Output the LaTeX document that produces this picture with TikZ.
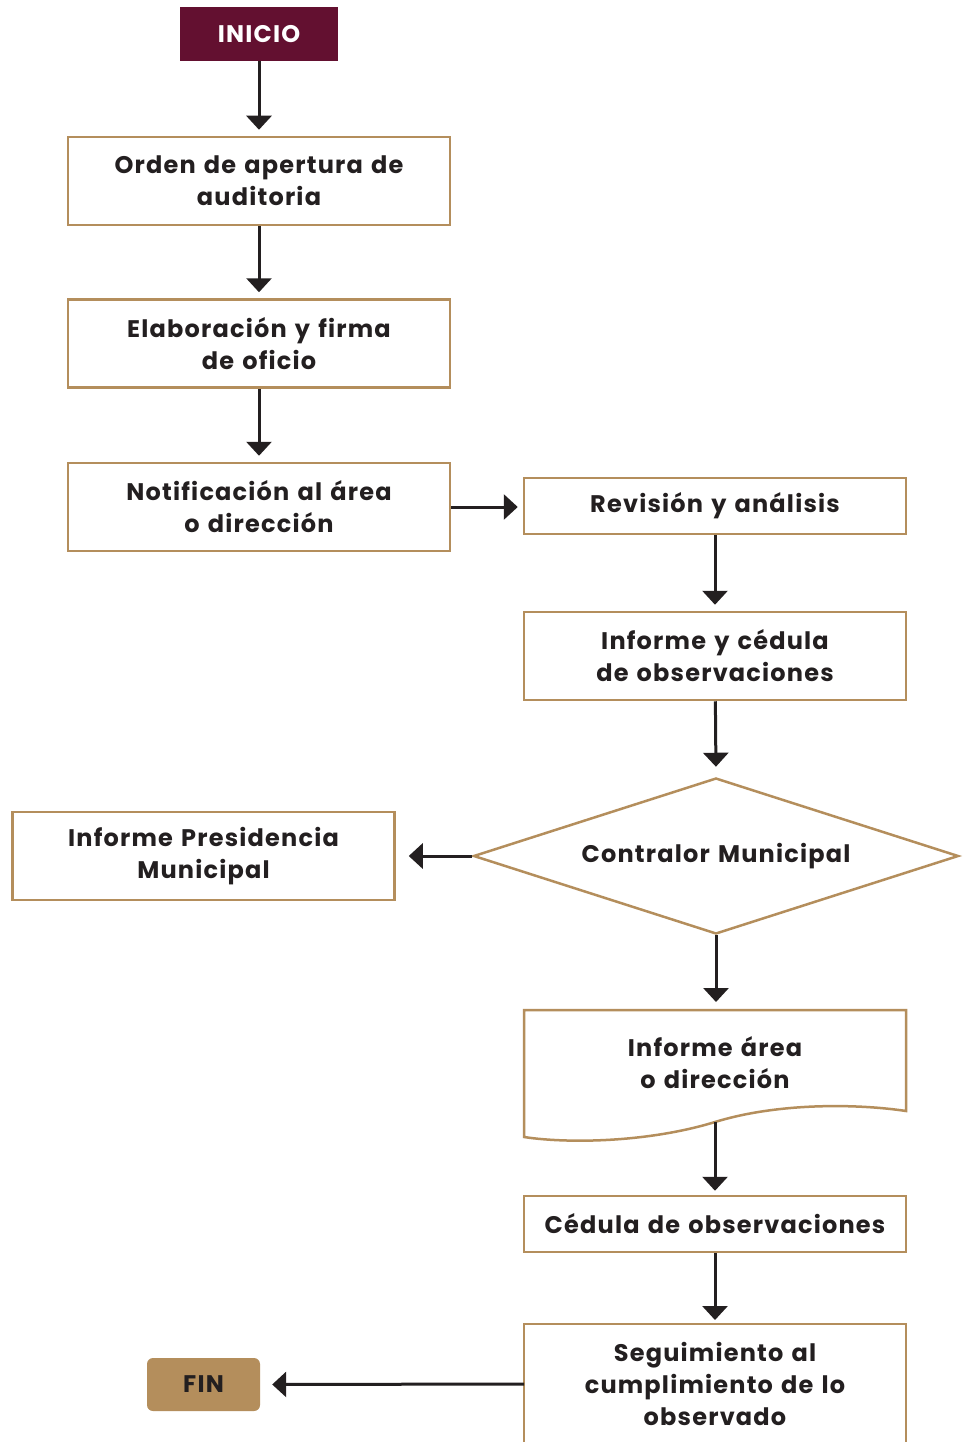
\documentclass[tikz,border=0pt]{standalone}
\usepackage{fontspec}
\setmainfont{Poppins}[LetterSpace=5,WordSpace=1.3]
\usetikzlibrary{arrows.meta,shapes.geometric}
\definecolor{maroon}{RGB}{99,16,48}
\definecolor{tan}{RGB}{180,142,92}
\definecolor{ink}{RGB}{35,31,32}
\tikzset{
  lbl/.style={text=ink, font=\fontsize{24}{32}\selectfont\bfseries, align=center},
  box/.style={lbl, draw=tan, line width=2.5pt, fill=white, minimum width=382pt, minimum height=88pt, inner sep=0pt},
  thinbox/.style={box, minimum height=56pt},
  arr/.style={draw=ink, line width=3pt, -{Triangle[length=14pt,width=25pt]}, shorten >=6pt},
}
\begin{document}
\begin{tikzpicture}[x=1pt,y=-1pt]
\useasboundingbox[fill=white] (0,0) rectangle (967,1442);
\node[fill=maroon, minimum width=158pt, minimum height=54pt, inner sep=0pt, lbl, text=white] (inicio) at (259,34) {INICIO};
\node[box] (b1) at (259,181) {Orden de apertura de\\auditoria};
\node[box] (b2) at (259,343.5) {Elaboración y firma\\de oficio};
\node[box] (b3) at (259,507) {Notificación al área\\o dirección};
\node[thinbox] (b4) at (715,506) {Revisión y análisis};
\node[box] (b5) at (715,656) {Informe y cédula\\de observaciones};
\node[lbl, draw=tan, line width=2.5pt, diamond, aspect=3.11, minimum width=485pt, minimum height=156pt, inner sep=0pt] (d) at (716,856) {Contralor Municipal};
\node[box] (b6) at (203.5,856) {Informe Presidencia\\Municipal};
\draw[draw=tan, line width=2.5pt, fill=white] (524,1010) -- (906,1010) -- (906,1111)
  .. controls (860,1104) and (780,1102) .. (715,1122)
  .. controls (650,1142) and (570,1144) .. (524,1137) -- cycle;
\node[lbl, inner sep=0pt] (doc) at (715,1063) {Informe área\\o dirección};
\coordinate (docb) at (715,1122);
\node[thinbox] (b7) at (715,1224) {Cédula de observaciones};
\draw[draw=tan, line width=2.5pt] (524,1450) -- (524,1324) -- (906,1324) -- (906,1450);
\node[lbl, minimum width=382pt, inner sep=0pt] (b8) at (715,1384) {Seguimiento al\\cumplimiento de lo\\observado};
\node[lbl, fill=tan, rounded corners=6pt, minimum width=113pt, minimum height=53pt, inner sep=0pt] (fin) at (203.5,1384.5) {FIN};
\draw[arr] (inicio) -- (b1);
\draw[arr] (b1) -- (b2);
\draw[arr] (b2) -- (b3);
\draw[arr, shorten >=5pt] (b3.east) -- (b3.east -| b4.west);
\draw[arr] (b4) -- (b5);
\draw[arr, shorten >=10pt] (b5) -- (d.north);
\draw[arr, shorten >=13pt] (d.west) -- (d.west -| b6.east);
\draw[arr, shorten >=8pt] (d.south) -- (d.south |- 0,1010);
\draw[arr, shorten >=4pt] (docb) -- (b7.north);
\draw[arr, shorten >=4pt] (b7) -- (b7.south |- 0,1324);
\draw[arr, shorten >=12pt] (b8.west -| 524,0) -- (fin.east);
\end{tikzpicture}
\end{document}
